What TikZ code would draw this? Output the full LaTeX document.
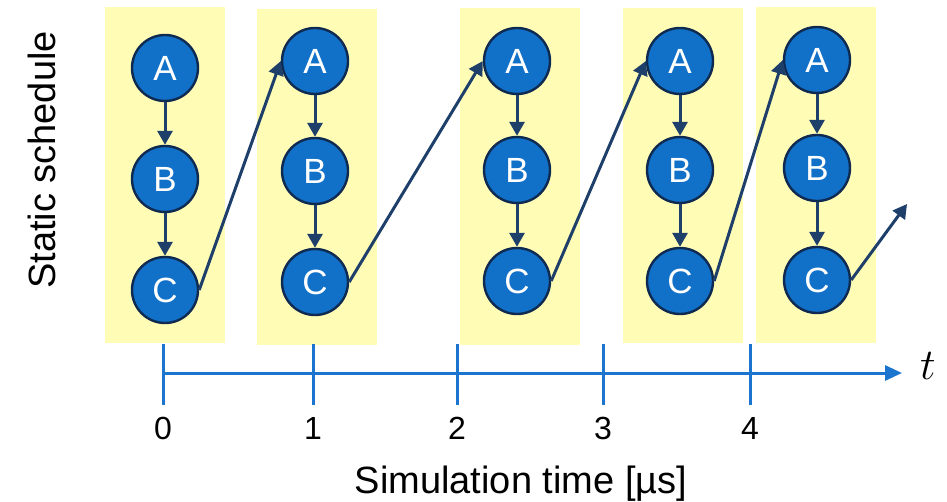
\RequirePackage{fix-cm}
\documentclass[tikz,border=0pt]{standalone}
\usepackage{fontspec}
\setmainfont{Liberation Sans}
\usetikzlibrary{arrows.meta}
\definecolor{boxyel}{HTML}{FFFDB5}
\definecolor{nodefill}{HTML}{1170C8}
\definecolor{nodeline}{HTML}{0F2A50}
\definecolor{arrcol}{HTML}{1F3F6B}
\definecolor{axcol}{HTML}{1B75CF}
\tikzset{
  task/.style={circle, fill=nodefill, draw=nodeline, line width=2.4pt, minimum size=66pt, inner sep=0pt, text=white, font=\fontsize{35}{38}\selectfont},
  yelbox/.style={fill=boxyel, draw=none},
  dep/.style={draw=arrcol, line width=3pt, -{Triangle[length=14pt,width=15pt]}},
  axisline/.style={draw=axcol, line width=3pt},
  ticklab/.style={font=\fontsize{32}{34}\selectfont},
  axlab/.style={font=\fontsize{38}{40}\selectfont}
}
\begin{document}
\begin{tikzpicture}[x=1pt,y=-1pt]
\useasboundingbox (0,0) rectangle (947,502);
% yellow boxes
\fill[yelbox] (105,7) rectangle (225,343);
\fill[yelbox] (257,9) rectangle (377,345);
\fill[yelbox] (460,8) rectangle (580,345);
\fill[yelbox] (623,8) rectangle (743,343);
\fill[yelbox] (756,7) rectangle (876,343);
% nodes
\node[task] (A1) at (165,68) {A};
\node[task] (B1) at (165,179) {B};
\node[task] (C1) at (165,290) {C};
\node[task] (A2) at (315,61) {A};
\node[task] (B2) at (315,171) {B};
\node[task] (C2) at (315,282) {C};
\node[task] (A3) at (517,61) {A};
\node[task] (B3) at (517,170) {B};
\node[task] (C3) at (517,281) {C};
\node[task] (A4) at (680,61) {A};
\node[task] (B4) at (680,170) {B};
\node[task] (C4) at (680,281) {C};
\node[task] (A5) at (817,60) {A};
\node[task] (B5) at (817,168) {B};
\node[task] (C5) at (817,280) {C};
\coordinate (out5) at (907,204);
% dependency arrows
\foreach \i in {1,...,5}{
  \draw[dep] (A\i) -- (B\i);
  \draw[dep] (B\i) -- (C\i);
}
\draw[dep] (C1.east) -- (A2.west);
\draw[dep] (C2.east) -- (A3.west);
\draw[dep] (C3.east) -- (A4.west);
\draw[dep] (C4.east) -- (A5.west);
\draw[dep] (C5.east) -- (out5);
% axis
\coordinate (ax0) at (163,373);
\coordinate (axend) at (902,373);
\draw[axisline, -{Triangle[length=17pt,width=15pt]}] (ax0) -- (axend);
\foreach \x/\n in {163/0,313/1,457/2,603/3,750/4}{
  \coordinate (tt\n) at (\x,344);
  \coordinate (tb\n) at (\x,405);
  \draw[axisline] (tt\n) -- (tb\n);
  \node[ticklab] (lab\n) at (\x,428) {\n};
}
\node[font=\fontsize{44}{46}\selectfont] (tlab) at (928,366) {$t$};
\node[axlab] (xlab) at (521,484) {Simulation time [µs]};
\node[axlab, rotate=90] (ylab) at (42,160) {Static schedule};
\end{tikzpicture}
\end{document}
